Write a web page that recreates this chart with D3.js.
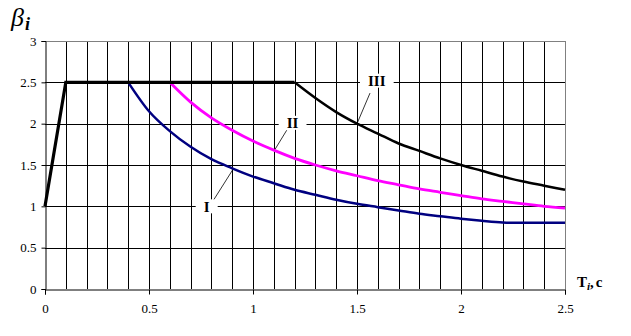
<!DOCTYPE html>
<html><head><meta charset="utf-8">
<script src="https://cdn.jsdelivr.net/npm/d3@7"></script>
<style>body{margin:0;background:#fff}svg{display:block}
svg text{font-family:"Liberation Serif","Times New Roman",serif !important}</style>
</head><body><svg id="c" width="631" height="336"></svg>
<script>
// ---- data ----
const tIII = [0, 0.1, 1.2, 1.3, 1.4, 1.5, 1.6, 1.7, 1.8, 1.9, 2.0, 2.1, 2.2, 2.3, 2.4, 2.5];
const bIII = [1.0, 2.5, 2.5, 2.31, 2.14, 2.0, 1.88, 1.76, 1.67, 1.58, 1.5, 1.43, 1.36, 1.3, 1.25, 1.2];
const tII = [0.6, 0.7, 0.8, 0.9, 1.0, 1.1, 1.2, 1.3, 1.4, 1.5, 1.6, 1.7, 1.8, 1.9, 2.0, 2.1, 2.2, 2.3, 2.4, 2.5];
const bII = [2.5, 2.26, 2.07, 1.92, 1.79, 1.68, 1.58, 1.5, 1.43, 1.37, 1.31, 1.26, 1.21, 1.17, 1.13, 1.09, 1.06, 1.03, 1.0, 0.98];
const tI = [0.4, 0.5, 0.6, 0.7, 0.8, 0.9, 1.0, 1.1, 1.2, 1.3, 1.4, 1.5, 1.6, 1.7, 1.8, 1.9, 2.0, 2.1, 2.2, 2.3, 2.4, 2.5];
const bI = [2.5, 2.15, 1.91, 1.72, 1.57, 1.46, 1.36, 1.28, 1.2, 1.14, 1.08, 1.03, 0.99, 0.95, 0.91, 0.88, 0.85, 0.825, 0.805, 0.8, 0.8, 0.8];
const xTicks = [0, 0.5, 1, 1.5, 2, 2.5];
const xTickLabels = ["0", "0.5", "1", "1.5", "2", "2.5"];
const yTicks = [0, 0.5, 1, 1.5, 2, 2.5, 3];
const yTickLabels = ["0", "0.5", "1", "1.5", "2", "2.5", "3"];
const xGrid = d3.range(1, 25).map(i => i / 10);
const curveNames = ["I", "II", "III"];
// label anchor (T, beta), leader from curve point to label
const labelAt = [[0.777, 1.0], [1.19, 2.01], [1.595, 2.52]];
const leaderFrom = [[0.902, 1.44], [1.106, 1.69], [1.5, 2.0]];
const leaderTo = [[0.809, 1.07], [1.162, 1.92], [1.5625, 2.37]];

const svg = d3.select("#c");
const x = d3.scaleLinear().domain([0, 2.5]).range([45, 565]);
const y = d3.scaleLinear().domain([0, 3]).range([289, 41]);

// grid
svg.append("g").selectAll("line").data(xGrid).join("line")
  .attr("x1", d => Math.round(x(d)) + 0.5).attr("x2", d => Math.round(x(d)) + 0.5)
  .attr("y1", y(3)).attr("y2", y(0)).attr("stroke", "#000").attr("stroke-width", 1);
svg.append("g").selectAll("line").data(yTicks.filter(v => v > 0 && v < 3)).join("line")
  .attr("x1", x(0)).attr("x2", x(2.5))
  .attr("y1", d => Math.round(y(d)) + 0.5).attr("y2", d => Math.round(y(d)) + 0.5)
  .attr("stroke", "#000").attr("stroke-width", 1);
// top and right border (gray)
svg.append("line").attr("x1", x(0)).attr("x2", x(2.5)).attr("y1", Math.round(y(3)) + 0.5).attr("y2", Math.round(y(3)) + 0.5).attr("stroke", "#808080");
svg.append("line").attr("x1", Math.round(x(2.5)) + 0.5).attr("x2", Math.round(x(2.5)) + 0.5).attr("y1", y(3)).attr("y2", y(0)).attr("stroke", "#808080");

// axes
const yAxis = svg.append("g").attr("transform", `translate(${Math.round(x(0)) + 0.5},0)`)
  .call(d3.axisLeft(y).tickValues(yTicks).tickFormat((d, i) => yTickLabels[i]).tickSizeOuter(0).tickSize(4).tickPadding(5));
const xAxis = svg.append("g").attr("transform", `translate(0,${Math.round(y(0)) + 0.5})`)
  .call(d3.axisBottom(x).tickValues(xTicks).tickFormat((d, i) => xTickLabels[i]).tickSizeOuter(0).tickSize(5).tickPadding(9));
[yAxis, xAxis].forEach(a => {
  a.attr("font-family", null);
  a.select(".domain").attr("stroke", "#000");
  a.selectAll("line").attr("stroke", "#000");
  a.selectAll("text").attr("font-size", 13).attr("fill", "#000");
});

// curves
const line = d3.line().x(d => x(d[0])).y(d => y(d[1])).curve(d3.curveMonotoneX);
const series = [
  { pts: tI.map((t, i) => [t, bI[i]]), color: "#000080", w: 2.5 },
  { pts: tII.map((t, i) => [t, bII[i]]), color: "#ff00ff", w: 2.8 },
];
series.forEach(s => svg.append("path").attr("d", line(s.pts)).attr("fill", "none")
  .attr("stroke", s.color).attr("stroke-width", s.w));
// black envelope: rising + plateau (linear), then decay (smooth)
const pIII = tIII.map((t, i) => [t, bIII[i]]);
svg.append("path").attr("d", d3.line().x(d => x(d[0])).y(d => y(d[1]))(pIII.slice(0, 3)))
  .attr("fill", "none").attr("stroke", "#000").attr("stroke-width", 3.2);
svg.append("path").attr("d", line(pIII.slice(2))).attr("fill", "none")
  .attr("stroke", "#000").attr("stroke-width", 2.5);

// curve labels with leaders
curveNames.forEach((n, i) => {
  svg.append("line")
    .attr("x1", x(leaderFrom[i][0])).attr("y1", y(leaderFrom[i][1]))
    .attr("x2", x(leaderTo[i][0])).attr("y2", y(leaderTo[i][1]))
    .attr("stroke", "#000").attr("stroke-width", 0.8);
  const g = svg.append("g").attr("transform", `translate(${x(labelAt[i][0])},${y(labelAt[i][1])})`);
  const rect = g.append("rect").attr("fill", "#fff");
  const txt = g.append("text").text(n).attr("text-anchor", "middle").attr("dy", "0.35em")
    .attr("font-weight", "bold").attr("font-size", 15).attr("fill", "#000");
  const bb = txt.node().getBBox();
  rect.attr("x", bb.x - 8).attr("y", -7).attr("width", bb.width + 16).attr("height", 14);
});

// axis titles
const yt = svg.append("text").attr("x", 11).attr("y", 26).attr("fill", "#000");
yt.append("tspan").text("β").attr("font-style", "italic").attr("font-size", 26);
yt.append("tspan").text("i").attr("font-style", "italic").attr("font-weight", "bold").attr("font-size", 18).attr("dy", 4).attr("dx", 1);

const xt = svg.append("text").attr("x", 577).attr("y", 287).attr("font-weight", "bold").attr("fill", "#000").attr("font-size", 15);
xt.append("tspan").text("T");
xt.append("tspan").text("i").attr("font-size", 11).attr("dy", 3).attr("font-style", "italic");
xt.append("tspan").text(",").attr("dy", -3);
xt.append("tspan").text("c").attr("dx", 2);
</script></body></html>
